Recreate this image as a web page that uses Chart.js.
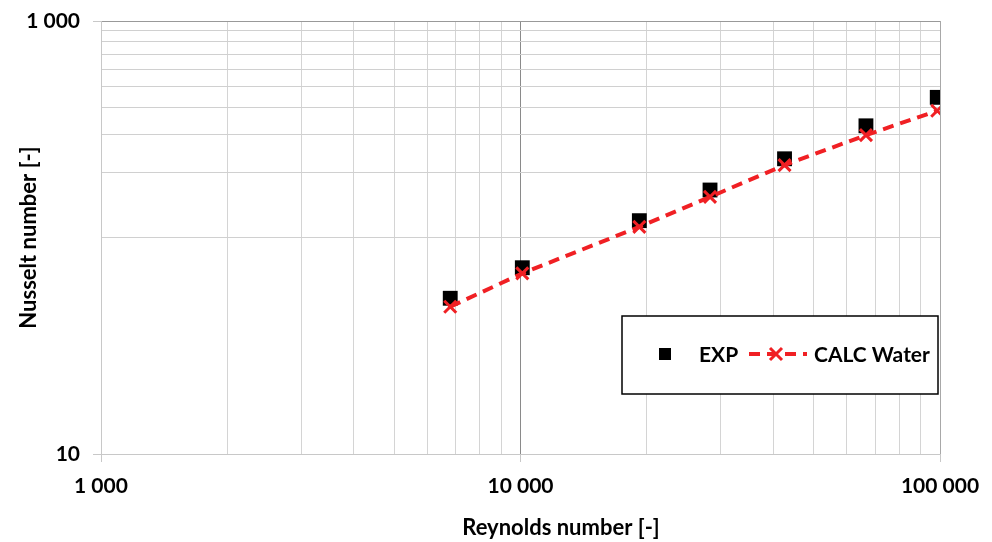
<!DOCTYPE html>
<html>
<head>
<meta charset="utf-8">
<script src="https://cdn.jsdelivr.net/npm/chart.js@4.4.1/dist/chart.umd.min.js"></script>
<style>
  html, body { margin: 0; padding: 0; background: #fff; }
  #wrap { width: 992px; height: 542px; }
</style>
</head>
<body>
<div id="wrap"><canvas id="myChart" width="992" height="542"></canvas></div>
<script>
// values
const reynolds = [6800, 10100, 19200, 28300, 42600, 66600, 98500];
const nuExp = [52.4, 72.5, 119.6, 165.7, 231, 328, 444];
const nuCalc = [47.9, 68.3, 112, 154, 216, 297, 385];

const xTicks = [1000, 2000, 3000, 4000, 5000, 6000, 7000, 8000, 9000,
  10000, 20000, 30000, 40000, 50000, 60000, 70000, 80000, 90000, 100000];
const xLabelled = [1000, 10000, 100000];
const yTicks = [10, 100, 200, 300, 400, 500, 600, 700, 800, 900, 1000];
const yLabelled = [10, 1000];

const fontFam = "Lato, 'Open Sans', sans-serif";
const red = "rgb(240,32,36)";

function spaced(v) {
  return String(v).replace(/\B(?=(\d{3})+(?!\d))/g, " ");
}

// axis titles and the boxed legend, drawn on top
const extras = {
  id: "extras",
  afterDraw(chart) {
    const ctx = chart.ctx;
    const area = chart.chartArea;
    ctx.save();
    ctx.fillStyle = "#000";
    ctx.font = "bold 22px " + fontFam;
    ctx.textAlign = "center";
    ctx.textBaseline = "middle";
    ctx.fillText("Reynolds number [-]", 561, 528);
    ctx.save();
    ctx.translate(29, (area.top + area.bottom) / 2);
    ctx.rotate(-Math.PI / 2);
    ctx.fillText("Nusselt number [-]", 0, 0);
    ctx.restore();

    // legend box
    const bx = 622, by = 316, bw = 316, bh = 78;
    ctx.fillStyle = "#fff";
    ctx.fillRect(bx, by, bw, bh);
    ctx.strokeStyle = "#000";
    ctx.lineWidth = 1.5;
    ctx.strokeRect(bx, by, bw, bh);
    const cy = by + bh / 2 - 1;
    const dsE = chart.data.datasets[0];
    const dsC = chart.data.datasets[1];
    ctx.fillStyle = dsE.backgroundColor;
    ctx.fillRect(659, cy - 6, 12, 12);
    ctx.fillStyle = "#000";
    ctx.textAlign = "left";
    ctx.font = "bold 21px " + fontFam;
    ctx.fillText(dsE.label, 699, cy + 1);
    ctx.strokeStyle = dsC.borderColor;
    ctx.lineWidth = 4;
    ctx.setLineDash([11, 7]);
    ctx.beginPath();
    ctx.moveTo(749, cy);
    ctx.lineTo(807, cy);
    ctx.stroke();
    ctx.setLineDash([]);
    ctx.lineWidth = 3;
    ctx.beginPath();
    ctx.moveTo(770, cy - 6); ctx.lineTo(782, cy + 6);
    ctx.moveTo(782, cy - 6); ctx.lineTo(770, cy + 6);
    ctx.stroke();
    ctx.fillStyle = "#000";
    ctx.fillText(dsC.label, 814, cy + 1);
    ctx.restore();
  }
};

document.addEventListener("DOMContentLoaded", function () {
  const ctx = document.getElementById("myChart");
  window.myChart = new Chart(ctx, {
    type: "scatter",
    data: {
      datasets: [
        {
          label: "EXP",
          data: reynolds.map((x, i) => ({ x: x, y: nuExp[i] })),
          showLine: false,
          pointStyle: "rect",
          pointRadius: 10.5,
          pointBackgroundColor: "#000",
          pointBorderColor: "#000",
          backgroundColor: "#000",
          borderWidth: 0,
          order: 2,
        },
        {
          label: "CALC Water",
          data: reynolds.map((x, i) => ({ x: x, y: nuCalc[i] })),
          showLine: true,
          borderColor: red,
          borderWidth: 4,
          borderDash: [11, 7],
          pointStyle: "crossRot",
          pointRadius: 8.5,
          pointBorderWidth: 3,
          pointBorderColor: red,
          backgroundColor: red,
          order: 1,
        },
      ],
    },
    options: {
      responsive: false,
      animation: false,
      layout: { padding: { left: 0, right: 52, top: 21, bottom: 0 } },
      plugins: {
        legend: { display: false },
        tooltip: { enabled: false },
      },
      scales: {
        x: {
          type: "logarithmic",
          min: 1000,
          max: 100000,
          afterBuildTicks: (scale) => { scale.ticks = xTicks.map((v) => ({ value: v })); },
          afterFit: (scale) => { scale.height = 88; scale.paddingLeft = 0; scale.paddingRight = 0; },
          ticks: {
            autoSkip: false,
            maxRotation: 0,
            padding: 12,
            color: "#000",
            font: { family: fontFam, size: 21, weight: "bold" },
            callback: (v) => (xLabelled.includes(v) ? spaced(v) : ""),
          },
          grid: {
            color: (c) => (c.tick && c.tick.value === 10000 ? "#8a8a8a" : c.tick && c.tick.value === 100000 ? "#a8a8a8" : "#d4d4d4"),
            lineWidth: 1,
            tickLength: 8,
            tickColor: (c) => (c.tick && xLabelled.includes(c.tick.value) ? "#c8c8c8" : "rgba(0,0,0,0)"),
          },
          border: { color: "#c8c8c8" },
        },
        y: {
          type: "logarithmic",
          min: 10,
          max: 1000,
          afterBuildTicks: (scale) => { scale.ticks = yTicks.map((v) => ({ value: v })); },
          afterFit: (scale) => { scale.width = 101; scale.paddingTop = 0; scale.paddingBottom = 0; },
          ticks: {
            autoSkip: false,
            padding: 13,
            color: "#000",
            font: { family: fontFam, size: 21, weight: "bold" },
            callback: (v) => (yLabelled.includes(v) ? spaced(v) : ""),
          },
          grid: {
            color: (c) => (c.tick && c.tick.value === 1000 ? "#999" : "#d0d0d0"),
            lineWidth: 1,
            tickLength: 8,
            tickColor: (c) => (c.tick && yLabelled.includes(c.tick.value) ? "#c8c8c8" : "rgba(0,0,0,0)"),
          },
          border: { color: "#c8c8c8" },
        },
      },
    },
    plugins: [extras],
  });
});
</script>
</body>
</html>
